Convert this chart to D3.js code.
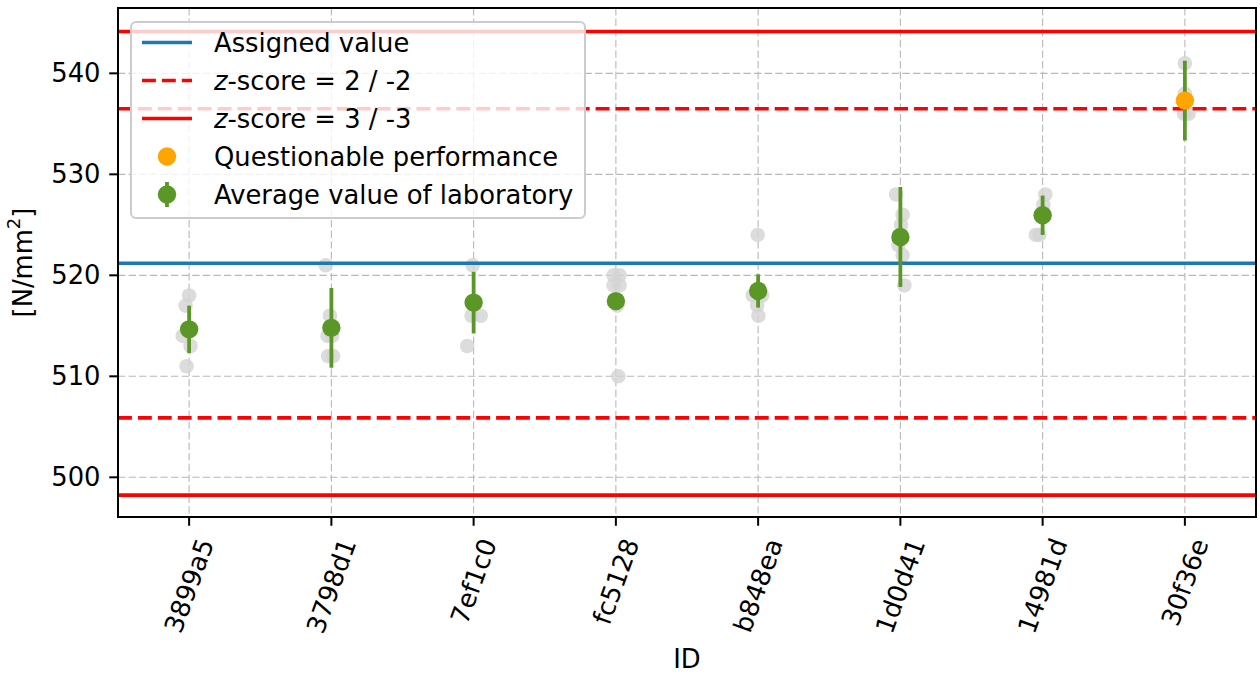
<!DOCTYPE html>
<html>
<head>
<meta charset="utf-8">
<script src="https://cdn.jsdelivr.net/npm/d3@7/dist/d3.min.js"></script>
<style>
  html, body { margin: 0; padding: 0; background: #fff; }
  svg { display: block; font-family: "DejaVu Sans", sans-serif; }
</style>
</head>
<body>
<svg id="chart" width="1260" height="673"></svg>
<script>
// Laboratory IDs on the x axis
const labIds = ["3899a5", "3798d1", "7ef1c0", "fc5128", "b848ea", "1d0d41", "14981d", "30f36e"];
// Average value per laboratory [N/mm²]
const labMeans = [514.65, 514.8, 517.3, 517.45, 518.45, 523.8, 525.95, 537.3];
// Error bar half-length per laboratory [N/mm²]
const labErrors = [2.35, 3.95, 3.05, 0.4, 1.65, 4.95, 1.95, 3.95];
// Individual results per laboratory [N/mm²]
const labReplicates = [
  [518, 517, 514, 513, 511],
  [521, 516, 514, 514, 512, 512],
  [521, 516, 516, 513],
  [520, 520, 519, 519, 517, 510],
  [524, 518, 518, 517, 516],
  [528, 526, 525, 523, 522, 519],
  [528, 527, 524, 524],
  [541, 538, 536, 536]
];
// Horizontal spread of the individual results, in category units
const replicateJitter = [
  [0.0, -0.025, -0.045, 0.01, -0.018],
  [-0.04, -0.01, -0.027, 0.005, -0.023, 0.012],
  [-0.007, -0.014, 0.05, -0.045],
  [-0.016, 0.026, -0.016, 0.026, 0.01, 0.017],
  [-0.003, -0.038, 0.028, -0.007, 0.002],
  [-0.03, 0.016, 0.005, -0.014, 0.016, 0.028],
  [0.019, 0.005, -0.048, -0.023],
  [0.0, 0.0, -0.005, 0.026]
];
// Assigned value and standard deviation for proficiency assessment
const assignedValue = 521.19;
const sigmaPT = 7.65;
const yTicks = [500, 510, 520, 530, 540];
const yDomain = [496.07, 546.47];
const yLabel = "[N/mm";
const xLabel = "ID";

const svg = d3.select("#chart");
const plot = { left: 118, right: 1256, top: 8, bottom: 517 };
const FS = 25.8;

const x = d3.scaleLinear().domain([-0.5, labIds.length - 0.5]).range([plot.left, plot.right]);
const y = d3.scaleLinear().domain(yDomain).range([plot.bottom, plot.top]);

const colors = {
  assigned: "#1f77b4",
  limit: "#ff0000",
  mean: "#5b9726",
  questionable: "#ffa500",
  replicate: "#d3d3d3",
  grid: "#b8b8b8"
};

svg.append("defs").append("clipPath").attr("id", "plotclip")
  .append("rect").attr("x", plot.left).attr("y", plot.top)
  .attr("width", plot.right - plot.left).attr("height", plot.bottom - plot.top);

// Grid
const grid = svg.append("g");
grid.selectAll("line.gy").data(yTicks).join("line")
  .attr("x1", plot.left).attr("x2", plot.right)
  .attr("y1", d => y(d)).attr("y2", d => y(d))
  .attr("stroke", colors.grid).attr("stroke-width", 1.1).attr("stroke-dasharray", "7.4,3.2");
grid.selectAll("line.gx").data(labIds.map((d, i) => i)).join("line")
  .attr("x1", d => x(d)).attr("x2", d => x(d))
  .attr("y1", plot.top).attr("y2", plot.bottom)
  .attr("stroke", colors.grid).attr("stroke-width", 1.1).attr("stroke-dasharray", "7.4,3.2");

const data = svg.append("g").attr("clip-path", "url(#plotclip)");

// Individual results
labReplicates.forEach((vals, i) => {
  data.append("g").selectAll("circle").data(vals).join("circle")
    .attr("cx", (v, j) => x(i + replicateJitter[i][j]))
    .attr("cy", v => y(v))
    .attr("r", 7.3)
    .attr("fill", colors.replicate)
    .attr("fill-opacity", 0.8);
});

// Reference lines: assigned value and z-score limits
const refLines = [
  { v: assignedValue, color: colors.assigned, dash: null },
  { v: assignedValue + 2 * sigmaPT, color: colors.limit, dash: "13.9,6" },
  { v: assignedValue - 2 * sigmaPT, color: colors.limit, dash: "13.9,6" },
  { v: assignedValue + 3 * sigmaPT, color: colors.limit, dash: null },
  { v: assignedValue - 3 * sigmaPT, color: colors.limit, dash: null }
];
data.append("g").selectAll("line").data(refLines).join("line")
  .attr("x1", plot.left).attr("x2", plot.right)
  .attr("y1", d => y(d.v)).attr("y2", d => y(d.v))
  .attr("stroke", d => d.color).attr("stroke-width", 3.6)
  .attr("stroke-dasharray", d => d.dash);

// Error bars and averages
const eb = data.append("g");
eb.selectAll("line").data(labMeans).join("line")
  .attr("x1", (d, i) => x(i)).attr("x2", (d, i) => x(i))
  .attr("y1", (d, i) => y(d + labErrors[i])).attr("y2", (d, i) => y(d - labErrors[i]))
  .attr("stroke", colors.mean).attr("stroke-width", 3.8);
eb.selectAll("circle").data(labMeans).join("circle")
  .attr("cx", (d, i) => x(i)).attr("cy", d => y(d)).attr("r", 9.2)
  .attr("fill", d => Math.abs((d - assignedValue) / sigmaPT) > 2 ? colors.questionable : colors.mean);

// Frame
svg.append("rect")
  .attr("x", plot.left).attr("y", plot.top)
  .attr("width", plot.right - plot.left).attr("height", plot.bottom - plot.top)
  .attr("fill", "none").attr("stroke", "#000").attr("stroke-width", 2);

// Y axis ticks and labels
const yAx = svg.append("g");
yAx.selectAll("line").data(yTicks).join("line")
  .attr("x1", plot.left - 8.75).attr("x2", plot.left)
  .attr("y1", d => y(d)).attr("y2", d => y(d))
  .attr("stroke", "#000").attr("stroke-width", 2);
yAx.selectAll("text").data(yTicks).join("text")
  .attr("x", plot.left - 17.5).attr("y", d => y(d))
  .attr("text-anchor", "end").attr("dominant-baseline", "central")
  .attr("font-size", FS).attr("fill", "#000")
  .text(d => d);

// X axis ticks and rotated labels
const xAx = svg.append("g");
xAx.selectAll("line").data(labIds).join("line")
  .attr("x1", (d, i) => x(i)).attr("x2", (d, i) => x(i))
  .attr("y1", plot.bottom).attr("y2", plot.bottom + 8.75)
  .attr("stroke", "#000").attr("stroke-width", 2);
const rot = 70 * Math.PI / 180;
xAx.selectAll("text").data(labIds).join("text")
  .attr("text-anchor", "middle").attr("dominant-baseline", "central")
  .attr("font-size", FS).attr("fill", "#000")
  .text(d => d)
  .each(function (d, i) {
    const L = this.getComputedTextLength();
    const h = FS * 1.164;
    const boxH = L * Math.sin(rot) + h * Math.cos(rot);
    const cy = plot.bottom + 17.5 + boxH / 2;
    d3.select(this).attr("transform", `translate(${x(i)},${cy}) rotate(-70)`);
  });

// Axis titles
svg.append("text")
  .attr("x", (plot.left + plot.right) / 2).attr("y", 668)
  .attr("text-anchor", "middle")
  .attr("font-size", FS).text(xLabel);

const yl = svg.append("text")
  .attr("transform", `translate(23,${(plot.top + plot.bottom) / 2}) rotate(-90)`)
  .attr("text-anchor", "middle").attr("dominant-baseline", "central")
  .attr("font-size", FS);
yl.append("tspan").text(yLabel);
yl.append("tspan").attr("dy", -10).attr("font-size", FS * 0.7).text("2");
yl.append("tspan").attr("dy", 10).text("]");

// Legend
const lg = svg.append("g");
lg.append("rect")
  .attr("x", 131).attr("y", 22).attr("width", 454).attr("height", 196)
  .attr("rx", 5).attr("ry", 5)
  .attr("fill", "#fff").attr("fill-opacity", 0.8)
  .attr("stroke", "#cccccc").attr("stroke-width", 2);

const legendItems = [
  { kind: "line", color: colors.assigned, dash: null, label: [["Assigned value", false]] },
  { kind: "line", color: colors.limit, dash: "13.9,6", label: [["z", true], ["-score = 2 / -2", false]] },
  { kind: "line", color: colors.limit, dash: null, label: [["z", true], ["-score = 3 / -3", false]] },
  { kind: "dot", color: colors.questionable, label: [["Questionable performance", false]] },
  { kind: "errdot", color: colors.mean, label: [["Average value of laboratory", false]] }
];
legendItems.forEach((item, k) => {
  const cy = 42.5 + k * 38;
  if (item.kind === "line") {
    lg.append("line").attr("x1", 142).attr("x2", 192).attr("y1", cy).attr("y2", cy)
      .attr("stroke", item.color).attr("stroke-width", 3.6)
      .attr("stroke-dasharray", item.dash);
  } else {
    if (item.kind === "errdot") {
      lg.append("line").attr("x1", 167).attr("x2", 167).attr("y1", cy - 12.5).attr("y2", cy + 12.5)
        .attr("stroke", item.color).attr("stroke-width", 3.8);
    }
    lg.append("circle").attr("cx", 167).attr("cy", cy).attr("r", 9.2).attr("fill", item.color);
  }
  const t = lg.append("text").attr("x", 214).attr("y", cy)
    .attr("dominant-baseline", "central").attr("font-size", FS).attr("fill", "#000");
  item.label.forEach(([s, it]) => {
    t.append("tspan").attr("font-style", it ? "italic" : "normal").text(s);
  });
});
</script>
</body>
</html>
